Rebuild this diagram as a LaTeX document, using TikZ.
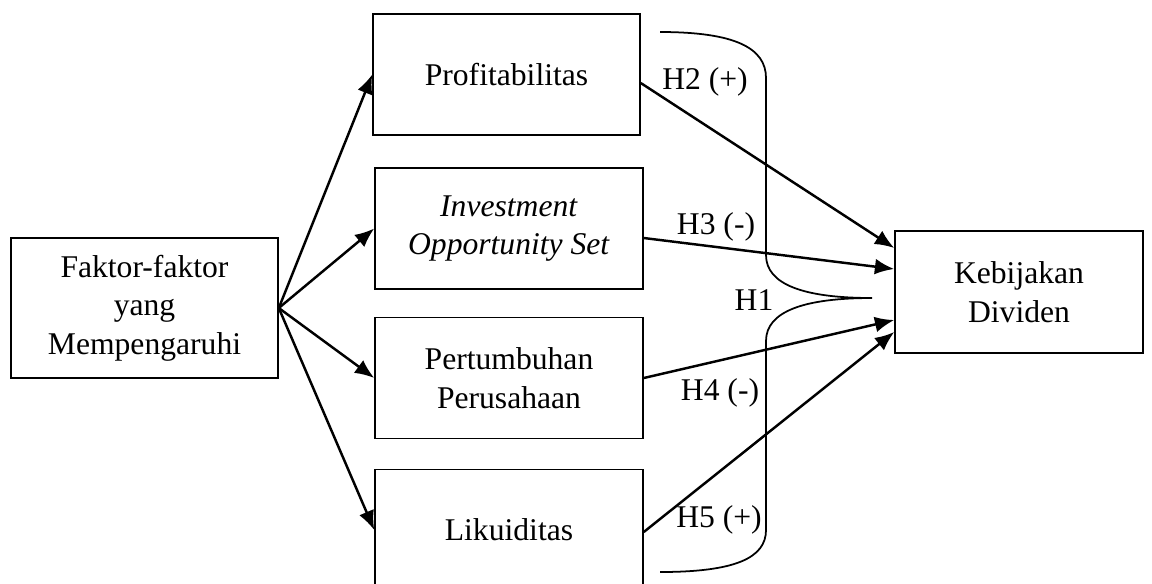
\documentclass[tikz,border=0pt]{standalone}
\usepackage{fontspec}
\setmainfont{Liberation Serif}
\usetikzlibrary{arrows.meta}

\begin{document}
\begin{tikzpicture}[x=0.02cm,y=-0.02cm,
    every node/.style={font=\fontsize{18}{22}\selectfont},
    box/.style={draw,line width=0.9pt,align=center,inner sep=0pt,minimum width=5.36cm,minimum height=2.42cm},
    arr/.style={-{Latex[length=11pt,width=9pt]},line width=1.4pt}]
      \useasboundingbox (0,0) rectangle (1152,583);

      \node (faktor) at (144.5,308) [box,minimum width=5.34cm,minimum height=2.8cm]{Faktor-faktor\\yang\\Mempengaruhi};
      \node (profit) at (506.5,74.5) [box,minimum width=5.34cm]{Profitabilitas};
      \node (ios) at (509,228.5) [box]{\textit{Investment}\\\textit{Opportunity Set}};
      \node (growth) at (509,378) [box]{Pertumbuhan\\Perusahaan};
      \node (liquid) at (509,530) [box]{Likuiditas};
      \node (dividen) at (1019,292) [box,minimum width=4.96cm,minimum height=2.44cm]{Kebijakan\\Dividen};

      \foreach \t in {profit,ios,growth,liquid}
      {
          \draw[arr] (faktor.east)--(\t.west);
      }

      \draw[arr] ([yshift=-0.17cm]profit.east)--([yshift=0.88cm]dividen.west);
      \draw[arr] ([yshift=-0.19cm]ios.east)--([yshift=0.46cm]dividen.west);
      \draw[arr] (growth.east)--([yshift=-0.56cm]dividen.west);
      \draw[arr] ([yshift=-0.04cm]liquid.east)--([yshift=-0.8cm]dividen.west);

      \draw[line width=1pt] (660,32) .. controls (735,32) and (766,48) .. (766,78)
          -- (766,255) .. controls (766,285) and (805,298) .. (872,298)
          .. controls (805,298) and (766,311) .. (766,341)
          -- (766,530) .. controls (766,558) and (735,572) .. (660,572);

      \node (h1) at (754,300) {H1};
      \node (h2) at (705,82) {H2 (+)};
      \node (h3) at (716,227) {H3 (-)};
      \node (h4) at (720,393) {H4 (-)};
      \node (h5) at (719,520) {H5 (+)};
\end{tikzpicture}
\end{document}
